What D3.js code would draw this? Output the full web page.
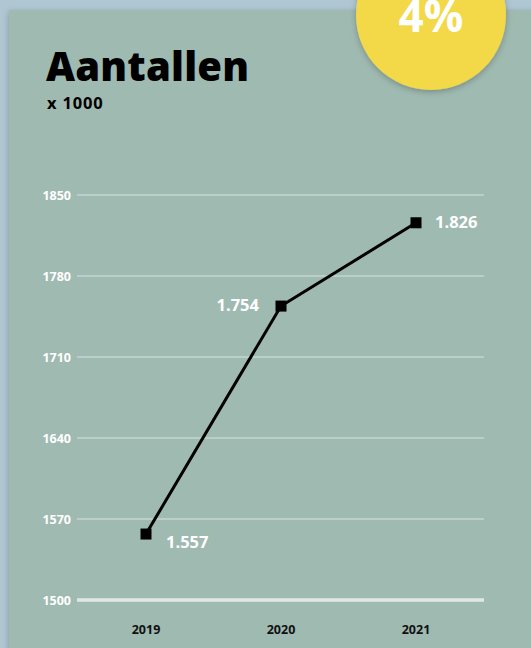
<!DOCTYPE html>
<html>
<head>
<meta charset="utf-8">
<script src="https://cdn.jsdelivr.net/npm/d3@7"></script>
<style>
  body { margin: 0; background: #afc7d3; overflow: hidden; }
  svg { display: block; font-family: 'Open Sans', Lato, sans-serif; }
</style>
</head>
<body>
<div id="chart"></div>
<script>
const years = ['2019', '2020', '2021']
const values = [1557, 1754, 1826]
const valueLabels = ['1.557', '1.754', '1.826']
const yTicks = [1500, 1570, 1640, 1710, 1780, 1850]

const width = 531
const height = 648

const svg = d3.select('#chart').append('svg')
  .attr('width', width)
  .attr('height', height)

const defs = svg.append('defs')
const shadow = defs.append('filter').attr('id', 'shadow')
  .attr('x', '-20%').attr('y', '-20%').attr('width', '140%').attr('height', '140%')
shadow.append('feDropShadow')
  .attr('dx', 0).attr('dy', 2).attr('stdDeviation', 3)
  .attr('flood-color', '#000').attr('flood-opacity', 0.25)

// card
svg.append('rect')
  .attr('x', 9).attr('y', 10)
  .attr('width', width).attr('height', height)
  .attr('fill', '#9fbab1')
  .attr('filter', 'url(#shadow)')

// title
svg.append('text')
  .attr('x', 46).attr('y', 81)
  .style('font-size', '40px')
  .style('font-weight', 800)
  .style('letter-spacing', '0.2px')
  .style('fill', '#000')
  .text('Aantallen')

svg.append('text')
  .attr('x', 47).attr('y', 109)
  .style('font-size', '16.5px')
  .style('font-weight', 700)
  .style('letter-spacing', '0.8px')
  .style('fill', '#000')
  .text('x 1000')

// yellow badge
svg.append('circle')
  .attr('cx', 431).attr('cy', 15).attr('r', 75)
  .attr('fill', '#f3d846')
  .attr('filter', 'url(#shadow)')

svg.append('text')
  .attr('x', 431).attr('y', 32)
  .attr('text-anchor', 'middle')
  .style('font-size', '44px')
  .style('font-weight', 700)
  .style('fill', '#fff')
  .text('4%')

const x = d3.scalePoint()
  .domain(years)
  .range([78.5, 483.5])
  .padding(0.5)

const y = d3.scaleLinear()
  .domain([1500, 1850])
  .range([600, 195])

const gridLeft = 77
const gridRight = 484

// grid lines
svg.append('g')
  .selectAll('line')
  .data(yTicks)
  .join('line')
  .attr('x1', gridLeft).attr('x2', gridRight)
  .attr('y1', d => y(d)).attr('y2', d => y(d))
  .attr('stroke', d => d === 1500 ? '#dfe8e4' : '#d6e3de')
  .attr('stroke-width', d => d === 1500 ? 3.5 : 1)

// y tick labels
svg.append('g')
  .selectAll('text')
  .data(yTicks)
  .join('text')
  .attr('x', 71)
  .attr('y', d => y(d) + 5)
  .attr('text-anchor', 'end')
  .style('font-size', '12.5px')
  .style('font-weight', 700)
  .style('fill', '#fff')
  .text(d => d)

// x labels
svg.append('g')
  .selectAll('text')
  .data(years)
  .join('text')
  .attr('x', d => x(d))
  .attr('y', 634)
  .attr('text-anchor', 'middle')
  .style('font-size', '12.5px')
  .style('font-weight', 700)
  .style('fill', '#111')
  .text(d => d)

const points = years.map((yr, i) => ({ year: yr, value: values[i], label: valueLabels[i] }))

// line
svg.append('path')
  .datum(points)
  .attr('fill', 'none')
  .attr('stroke', '#000')
  .attr('stroke-width', 3)
  .attr('d', d3.line().x(d => x(d.year)).y(d => y(d.value)))

// markers
const size = 11
svg.append('g')
  .selectAll('rect')
  .data(points)
  .join('rect')
  .attr('x', d => x(d.year) - size / 2)
  .attr('y', d => y(d.value) - size / 2)
  .attr('width', size).attr('height', size)
  .attr('fill', '#000')

// value labels
const labelPos = [
  { dx: 20, dy: 14, anchor: 'start' },
  { dx: -22, dy: 5, anchor: 'end' },
  { dx: 19, dy: 5, anchor: 'start' }
]
svg.append('g')
  .selectAll('text')
  .data(points)
  .join('text')
  .attr('x', (d, i) => x(d.year) + labelPos[i].dx)
  .attr('y', (d, i) => y(d.value) + labelPos[i].dy)
  .attr('text-anchor', (d, i) => labelPos[i].anchor)
  .style('font-size', '16.5px')
  .style('font-weight', 700)
  .style('fill', '#fff')
  .text(d => d.label)
</script>
</body>
</html>
